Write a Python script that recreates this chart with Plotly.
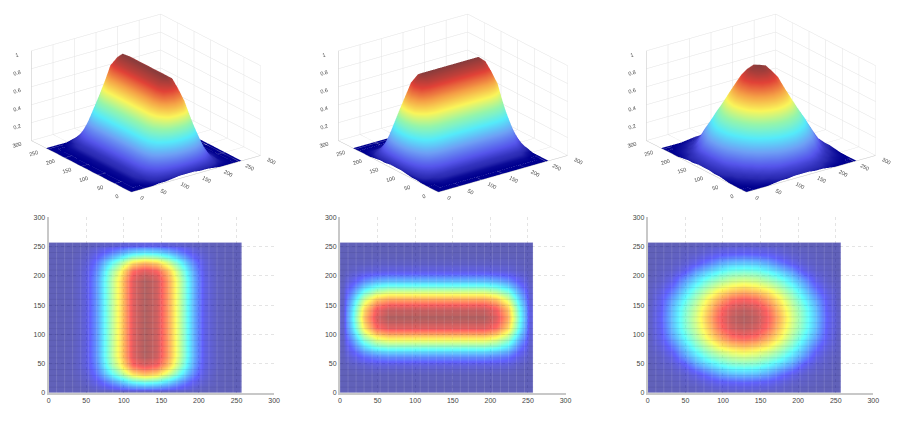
import numpy as np
import plotly.graph_objects as go

grid = [0,16,32,48,64,80,96,112,128,144,160,176,192,208,224,240,256]
cell_edges = [0,8,24,40,56,72,88,104,120,136,152,168,184,200,216,232,248,257]
axis_ticks = [0,50,100,150,200,250,300]
z_ticks = [0,0.2,0.4,0.6,0.8,1]

z_tall = [
 [0,0,0,0,.01,.01,.02,.03,.03,.03,.02,.02,.01,0,0,0,0],
 [0,0,0,.02,.08,.16,.24,.32,.35,.33,.27,.18,.09,.03,.01,0,0],
 [0,0,.01,.04,.16,.33,.49,.66,.72,.68,.55,.37,.19,.06,.01,0,0],
 [0,0,.01,.06,.20,.43,.63,.86,.93,.88,.71,.48,.25,.07,.02,0,0],
 [0,0,.01,.06,.22,.46,.68,.92,1,.95,.76,.52,.27,.08,.02,0,0],
 [0,0,.01,.06,.22,.46,.68,.92,1,.95,.76,.52,.27,.08,.02,0,0],
 [0,0,.01,.06,.22,.46,.68,.92,1,.95,.76,.52,.27,.08,.02,0,0],
 [0,0,.01,.06,.22,.46,.68,.92,1,.95,.76,.52,.27,.08,.02,0,0],
 [0,0,.01,.06,.22,.46,.68,.92,1,.95,.76,.52,.27,.08,.02,0,0],
 [0,0,.01,.06,.22,.46,.68,.92,1,.95,.76,.52,.27,.08,.02,0,0],
 [0,0,.01,.06,.22,.46,.68,.92,1,.95,.76,.52,.27,.08,.02,0,0],
 [0,0,.01,.06,.22,.46,.68,.92,1,.95,.76,.52,.27,.08,.02,0,0],
 [0,0,.01,.06,.22,.46,.68,.92,1,.95,.76,.52,.27,.08,.02,0,0],
 [0,0,.01,.06,.20,.43,.63,.86,.93,.88,.71,.48,.25,.07,.02,0,0],
 [0,0,.01,.04,.16,.33,.49,.66,.72,.68,.55,.37,.19,.06,.01,0,0],
 [0,0,0,.02,.08,.16,.24,.32,.35,.33,.27,.18,.09,.03,.01,0,0],
 [0,0,0,0,.02,.03,.05,.06,.07,.07,.05,.04,.02,.01,0,0,0],
]
z_wide = [
 [0,0,0,0,0,0,0,0,0,0,0,0,0,0,0,0,0],
 [0,0,0,0,0,0,0,0,0,0,0,0,0,0,0,0,0],
 [0,0,.01,.01,.01,.01,.01,.01,.01,.01,.01,.01,.01,.01,.01,0,0],
 [0,.02,.04,.06,.06,.06,.06,.06,.06,.06,.06,.06,.06,.06,.05,.02,0],
 [.01,.08,.16,.20,.22,.22,.22,.22,.22,.22,.22,.22,.22,.20,.17,.08,.02],
 [.01,.16,.33,.43,.46,.46,.46,.46,.46,.46,.46,.46,.46,.43,.35,.17,.03],
 [.02,.24,.49,.63,.68,.68,.68,.68,.68,.68,.68,.68,.68,.63,.51,.26,.05],
 [.03,.32,.66,.86,.92,.92,.92,.92,.92,.92,.92,.92,.92,.86,.69,.35,.06],
 [.03,.35,.72,.93,1,1,1,1,1,1,1,1,1,.93,.75,.38,.07],
 [.03,.33,.68,.88,.95,.95,.95,.95,.95,.95,.95,.95,.95,.88,.71,.36,.07],
 [.02,.27,.55,.71,.76,.76,.76,.76,.76,.76,.76,.76,.76,.71,.57,.29,.05],
 [.02,.18,.37,.48,.52,.52,.52,.52,.52,.52,.52,.52,.52,.48,.39,.20,.04],
 [.01,.09,.19,.25,.27,.27,.27,.27,.27,.27,.27,.27,.27,.25,.20,.10,.02],
 [0,.03,.06,.07,.08,.08,.08,.08,.08,.08,.08,.08,.08,.07,.06,.03,.01],
 [0,.01,.01,.02,.02,.02,.02,.02,.02,.02,.02,.02,.02,.02,.02,.01,0],
 [0,0,0,0,0,0,0,0,0,0,0,0,0,0,0,0,0],
 [0,0,0,0,0,0,0,0,0,0,0,0,0,0,0,0,0],
]
z_round = [
 [0,0,0,0,.01,.02,.02,.03,.03,.03,.02,.02,.01,0,0,0,0],
 [0,0,.01,.02,.03,.06,.09,.10,.11,.10,.09,.06,.03,.02,.01,0,0],
 [0,.01,.02,.04,.09,.16,.23,.27,.28,.27,.23,.16,.09,.04,.02,.01,0],
 [0,.02,.04,.10,.22,.30,.37,.42,.43,.42,.37,.30,.22,.10,.04,.02,0],
 [.01,.03,.09,.22,.33,.43,.50,.55,.57,.55,.50,.43,.33,.22,.09,.03,.01],
 [.02,.06,.16,.30,.43,.54,.64,.70,.73,.70,.64,.54,.43,.30,.16,.06,.02],
 [.02,.09,.23,.37,.50,.64,.76,.85,.88,.85,.76,.64,.50,.37,.23,.09,.02],
 [.03,.10,.27,.42,.55,.70,.85,.94,.97,.94,.85,.70,.55,.42,.27,.10,.03],
 [.03,.11,.28,.43,.57,.73,.88,.97,1,.97,.88,.73,.57,.43,.28,.11,.03],
 [.03,.10,.27,.42,.55,.70,.85,.94,.97,.94,.85,.70,.55,.42,.27,.10,.03],
 [.02,.09,.23,.37,.50,.64,.76,.85,.88,.85,.76,.64,.50,.37,.23,.09,.02],
 [.02,.06,.16,.30,.43,.54,.64,.70,.73,.70,.64,.54,.43,.30,.16,.06,.02],
 [.01,.03,.09,.22,.33,.43,.50,.55,.57,.55,.50,.43,.33,.22,.09,.03,.01],
 [0,.02,.04,.10,.22,.30,.37,.42,.43,.42,.37,.30,.22,.10,.04,.02,0],
 [0,.01,.02,.04,.09,.16,.23,.27,.28,.27,.23,.16,.09,.04,.02,.01,0],
 [0,0,.01,.02,.03,.06,.09,.10,.11,.10,.09,.06,.03,.02,.01,0,0],
 [0,0,0,0,.01,.02,.02,.03,.03,.03,.02,.02,.01,0,0,0,0],
]
panels = [z_tall, z_wide, z_round]

jet = [[0,'rgb(0,0,143)'],[.125,'rgb(0,0,255)'],[.375,'rgb(0,255,255)'],
       [.625,'rgb(255,255,0)'],[.875,'rgb(255,0,0)'],[1,'rgb(128,0,0)']]
# The reference's fine pale mesh washes out the surface faces, so they use a paler jet.
jet_meshed = [[0,'rgb(0,0,143)'],[.03,'rgb(40,40,175)'],[.125,'rgb(85,85,235)'],[.25,'rgb(110,160,245)'],
              [.375,'rgb(85,235,250)'],[.5,'rgb(150,245,170)'],[.625,'rgb(250,245,90)'],
              [.75,'rgb(245,160,70)'],[.875,'rgb(225,65,55)'],[1,'rgb(135,60,60)']]

W, H = 916, 425
FONT = dict(family='Liberation Sans, Arial, sans-serif', size=7, color='#444')
FONT3D = dict(family='Liberation Sans, Arial, sans-serif', size=8, color='#444')
heat_left = [47, 341, 651.5]
heat_w, heat_top, heat_bot = 227.5, 217, 395.5
scene_left = [0, 310, 620]
scene_w, scene_h = 291, 205

fig = go.Figure()
layout = {}
light = dict(ambient=1.0, diffuse=0.0, specular=0.0, roughness=0.5, fresnel=0.0)
zoom = 1.66

mesh_vertical = np.arange(0, 257, 10.67)
mesh_horizontal = np.arange(0, 257, 10.0)

for i, z in enumerate(panels):
    n = i + 1
    sc = 'scene' if i == 0 else f'scene{n}'
    fig.add_trace(go.Surface(x=grid, y=grid, z=z, colorscale=jet_meshed, cmin=0, cmax=1, showscale=False,
                             lighting=light, scene=sc, hoverinfo='skip'))
    ax = dict(range=[0, 300], tickvals=axis_ticks, ticktext=[str(v) for v in axis_ticks], title=dict(text=''),
              showbackground=False, gridcolor='#e2e2e2', gridwidth=1, linecolor='#c4c4c4', linewidth=1,
              zeroline=False, showspikes=False, tickfont=FONT3D, ticklen=0)
    layout[sc] = dict(
        domain=dict(x=[scene_left[i]/W, (scene_left[i]+scene_w)/W], y=[1-scene_h/H, 1]),
        xaxis=ax, yaxis=ax,
        zaxis={**ax, 'range':[0, 1], 'tickvals':z_ticks, 'ticktext':[str(v) for v in z_ticks]},
        aspectmode='manual', aspectratio=dict(x=0.96*zoom, y=1.0*zoom, z=0.58*zoom),
        camera=dict(eye=dict(x=-1.12, y=-1.51, z=0.76), center=dict(x=0, y=0, z=-0.02),
                    projection=dict(type='orthographic')),
    )
    xa, ya = ('x', 'y') if i == 0 else (f'x{n}', f'y{n}')
    fig.add_trace(go.Heatmap(x=cell_edges, y=cell_edges, z=z, colorscale=jet, zmin=0, zmax=1, zsmooth='best',
                             opacity=0.62, showscale=False, xaxis=xa, yaxis=ya, hoverinfo='skip'))
    vx, vy = [], []
    for m in mesh_vertical:
        vx += [m, m, None]; vy += [0, 257, None]
    fig.add_trace(go.Scatter(x=vx, y=vy, mode='lines', line=dict(color='rgba(255,255,255,0.13)', width=1),
                             xaxis=xa, yaxis=ya, showlegend=False, hoverinfo='skip'))
    hx, hy = [], []
    for m in mesh_horizontal:
        hx += [0, 257, None]; hy += [m, m, None]
    fig.add_trace(go.Scatter(x=hx, y=hy, mode='lines', line=dict(color='rgba(40,40,90,0.10)', width=1),
                             xaxis=xa, yaxis=ya, showlegend=False, hoverinfo='skip'))
    common = dict(range=[0, 300], tickvals=axis_ticks, tickfont=FONT, griddash='dot', gridcolor='#e4e4e4',
                  gridwidth=1, zeroline=False, showline=True, linecolor='#c8c8c8', linewidth=2,
                  ticks='', ticklabelstandoff=0, mirror=False)
    xname = 'xaxis' if i == 0 else f'xaxis{n}'
    yname = 'yaxis' if i == 0 else f'yaxis{n}'
    layout[xname] = dict(domain=[heat_left[i]/W, (heat_left[i]+heat_w)/W], anchor=ya, **common)
    layout[yname] = dict(domain=[1-heat_bot/H, 1-heat_top/H], anchor=xa, **common)

fig.update_layout(width=W, height=H, margin=dict(l=0, r=0, t=0, b=0), paper_bgcolor='white',
                  plot_bgcolor='white', showlegend=False, **layout)
fig.write_html("out.html", config={'displayModeBar': False}, post_script="document.body.style.margin='0';")
